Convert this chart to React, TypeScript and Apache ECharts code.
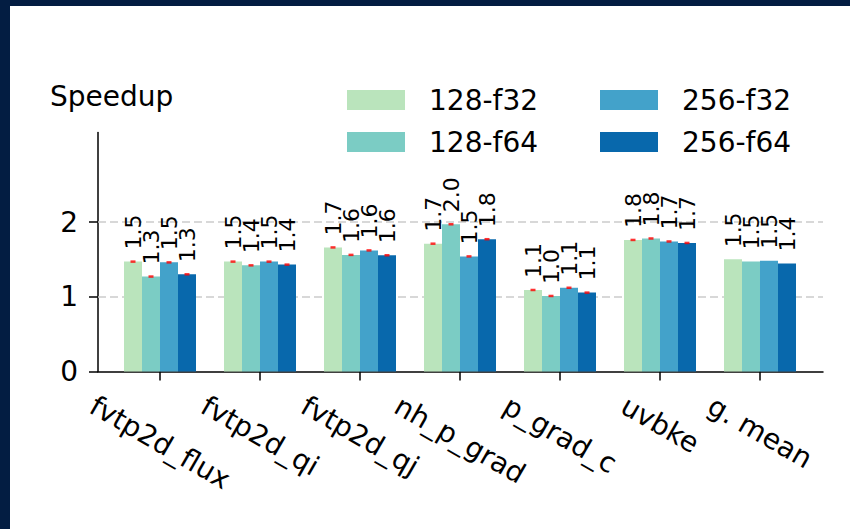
import React, { useEffect, useRef } from 'react';
import * as echarts from 'echarts';

const categories = ['fvtp2d_flux', 'fvtp2d_qi', 'fvtp2d_qj', 'nh_p_grad', 'p_grad_c', 'uvbke', 'g. mean'];
const seriesNames = ['128-f32', '128-f64', '256-f32', '256-f64'];
const v128f32 = [1.47, 1.47, 1.66, 1.71, 1.09, 1.76, 1.5];
const v128f64 = [1.27, 1.42, 1.56, 1.97, 1.01, 1.78, 1.47];
const v256f32 = [1.46, 1.47, 1.62, 1.54, 1.12, 1.74, 1.48];
const v256f64 = [1.3, 1.43, 1.555, 1.77, 1.055, 1.72, 1.445];
const hasErrorMark = [true, true, true, true, true, true, false];
const yTickValues = [0, 1, 2];
const gridValues = [1, 2];
const colors = ['#bae4bc', '#7bccc4', '#43a2ca', '#0868ac'];

const FONT = '"DejaVu Sans", sans-serif';
const BAR_W = 18;

function measure(s: string, size: number): number {
  const c = document.createElement('canvas').getContext('2d');
  if (!c) return s.length * size * 0.55;
  c.font = `${size}px "DejaVu Sans"`;
  return c.measureText(s).width;
}

export default function App() {
  const ref = useRef<HTMLDivElement>(null);
  useEffect(() => {
    if (!ref.current) return;
    const chart = echarts.init(ref.current, null, { renderer: 'svg' });
    const allValues = [v128f32, v128f64, v256f32, v256f64];
    const catIdx = categories.map((_, i) => i);

    const rich: Record<string, any> = {};
    categories.forEach((c, i) => {
      const L = measure(c, 28);
      rich['c' + i] = {
        fontSize: 28,
        fontFamily: FONT,
        color: '#000',
        padding: [0.433 * L, 0, 0, 0.25 * L],
      };
    });

    const barSeries = allValues.map((vals, si) => ({
      name: seriesNames[si],
      type: 'bar',
      barWidth: BAR_W,
      barGap: '0%',
      z: 2,
      itemStyle: { color: colors[si] },
      emphasis: { disabled: true },
      data: vals.map((v, i) => [i, v]),
      label: {
        show: true,
        position: 'top',
        rotate: 90,
        align: 'left',
        verticalAlign: 'middle',
        distance: 12,
        fontSize: 22,
        fontFamily: FONT,
        color: '#000',
        formatter: (p: any) => Number(p.value[1]).toFixed(1),
      },
      markLine:
        si === 0
          ? {
              silent: true,
              symbol: 'none',
              z: 1,
              label: { show: false },
              lineStyle: { color: '#cccccc', type: [8, 4], width: 1.5 },
              data: gridValues.map((g) => ({ yAxis: g })),
            }
          : undefined,
    }));

    const errSeries = allValues.map((vals, si) => ({
      name: 'err-' + seriesNames[si],
      type: 'scatter',
      symbol: 'rect',
      symbolSize: [5, 2.5],
      symbolOffset: [(si - 1.5) * BAR_W, 0],
      z: 4,
      silent: true,
      itemStyle: { color: '#ff0000' },
      data: vals.map((v, i) => (hasErrorMark[i] ? [i, v] : null)).filter((d) => d !== null),
    }));

    const legendCommon = {
      orient: 'vertical',
      top: 86,
      padding: 0,
      itemWidth: 58,
      itemHeight: 20,
      itemGap: 14,
      icon: 'rect',
      selectedMode: false,
      textStyle: { fontSize: 28, fontFamily: FONT, color: '#000', padding: [0, 0, 0, 19] },
    };

    chart.setOption({
      animation: false,
      backgroundColor: '#ffffff',
      title: {
        text: 'Speedup',
        left: 50,
        top: 82,
        padding: 0,
        textStyle: { fontSize: 28, fontWeight: 'normal', fontFamily: FONT, color: '#000' },
      },
      legend: [
        { ...legendCommon, left: 347, data: seriesNames.slice(0, 2) },
        { ...legendCommon, left: 600, data: seriesNames.slice(2, 4) },
      ],
      grid: { left: 98, right: 27, top: 132.4, bottom: 157.6, containLabel: false },
      xAxis: {
        type: 'value',
        min: -0.62,
        max: 6.63,
        axisLine: { show: true, onZero: false, lineStyle: { color: '#000', width: 1.5 } },
        axisTick: { show: true, customValues: catIdx, length: 9, lineStyle: { color: '#000', width: 1.5 } },
        axisLabel: {
          customValues: catIdx,
          formatter: (v: number) => `{c${Math.round(v)}|${categories[Math.round(v)]}}`,
          rich,
          rotate: -30,
          align: 'center',
          verticalAlign: 'middle',
          margin: 32,
          fontSize: 28,
          fontFamily: FONT,
          color: '#000',
        },
        splitLine: { show: false },
      },
      yAxis: {
        type: 'value',
        min: 0,
        max: 3.2,
        axisLine: { show: true, onZero: false, lineStyle: { color: '#000', width: 1.5 } },
        axisTick: { show: true, customValues: yTickValues, length: 9, lineStyle: { color: '#000', width: 1.5 } },
        axisLabel: {
          customValues: yTickValues,
          fontSize: 28,
          fontFamily: FONT,
          color: '#000',
          margin: 20,
        },
        splitLine: { show: false },
      },
      graphic: [
        { type: 'rect', shape: { x: 0, y: 0, width: 10, height: 529 }, style: { fill: '#031d42' }, z: 100 },
        { type: 'rect', shape: { x: 0, y: 0, width: 850, height: 6 }, style: { fill: '#031d42' }, z: 100 },
      ],
      series: [...barSeries, ...errSeries],
    });
    return () => chart.dispose();
  }, []);
  return (
    <div
      ref={ref}
      style={{ position: 'fixed', left: 0, top: 0, width: 850, height: 529, background: '#fff' }}
    />
  );
}
